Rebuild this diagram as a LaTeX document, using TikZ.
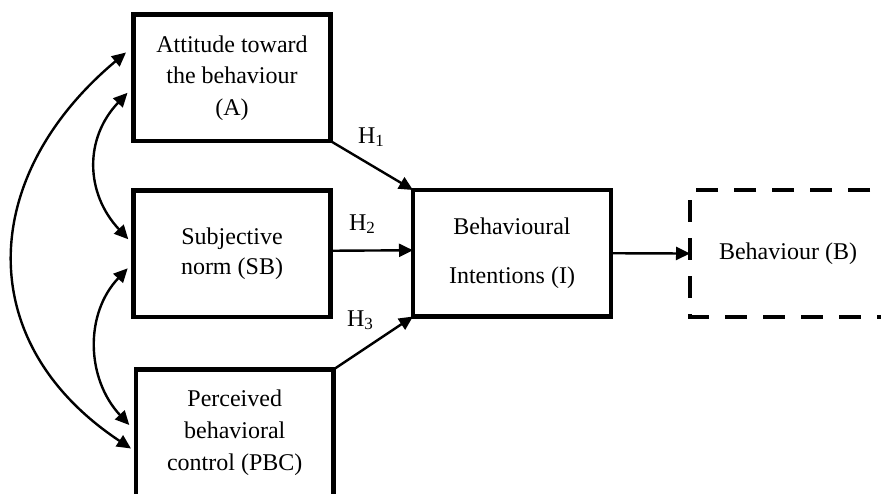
\documentclass[tikz,border=0pt]{standalone}
\usepackage{fontspec}
\setmainfont{Liberation Serif}
\usetikzlibrary{arrows.meta}
\newcommand{\hsub}[1]{H\raisebox{-2.5pt}{\fontsize{17}{17}\selectfont #1}}
\begin{document}
\begin{tikzpicture}[x=1pt,y=-1pt,
  box/.style={draw, line width=4.6pt, rectangle, minimum width=197pt,
    minimum height=126.5pt, inner sep=0pt, outer sep=0pt, align=center,
    font=\fontsize{24}{31.5}\selectfont},
  plainbox/.style={rectangle, minimum width=196pt, minimum height=127pt,
    inner sep=0pt, outer sep=0pt, font=\fontsize{24}{31.5}\selectfont},
  dashbox/.style={line width=4.6pt, dash pattern=on 22pt off 16pt, dash phase=22pt},
  arr/.style={line width=2.4pt, -{Triangle[length=14pt,width=13pt]}},
  biarr/.style={line width=2.4pt,
    {Triangle[length=14pt,width=13pt]}-{Triangle[length=14pt,width=13pt]}},
  hlabel/.style={inner sep=0pt, font=\fontsize{24}{28}\selectfont}]
\useasboundingbox (0,0) rectangle (881,493);
\clip (0,0) rectangle (881,493);

% constructs of the model
\node[box] (A) at (232,77.75) {Attitude toward\\the behaviour\\(A)};
\node[box, font=\fontsize{24}{30}\selectfont] (SB) at (232,253.75) {Subjective\\norm (SB)};
\node[box, minimum width=197.5pt, font=\fontsize{24}{32}\selectfont] (PBC) at (234.75,432.75)
  {Perceived\\behavioral\\control (PBC)};
\node[box, minimum width=198pt, font=\fontsize{24}{31.5}\selectfont] (I) at (512,253.25)
  {Behavioural\\[17.5pt]Intentions (I)};
\node[plainbox] (B) at (788,253.5) {Behaviour (B)};
\draw[dashbox] (B.north east) -- (B.north west) -- (B.south west) -- (B.south east);

% hypothesised paths
\draw[arr] (A.south east) -- (I.north west);
\draw[arr] ([yshift=3pt]SB.east) -- ([yshift=3pt]I.west);
\draw[arr] (PBC.north east) -- (I.south west);
\draw[arr] (I.east) -- (B.west);

\node[hlabel] (h1) at (371,137) {\hsub{1}};
\node[hlabel] (h2) at (362,224) {\hsub{2}};
\node[hlabel] (h3) at (360,320) {\hsub{3}};

% correlations among the antecedents
\draw[biarr] ([shift={(-7.5,38)}]A.north west)
  .. controls +(-147,123) and +(-160,-106) .. ([shift={(-5,79)}]PBC.north west);
\draw[biarr] ([shift={(-6,78.3)}]A.north west)
  .. controls +(-43.5,45.7) and +(-43,-46) .. ([shift={(-5.2,48.8)}]SB.north west);
\draw[biarr] ([shift={(-5.8,77.8)}]SB.north west)
  .. controls +(-43.5,45.7) and +(-43,-46) .. ([shift={(-6.7,55.5)}]PBC.north west);
\end{tikzpicture}
\end{document}
